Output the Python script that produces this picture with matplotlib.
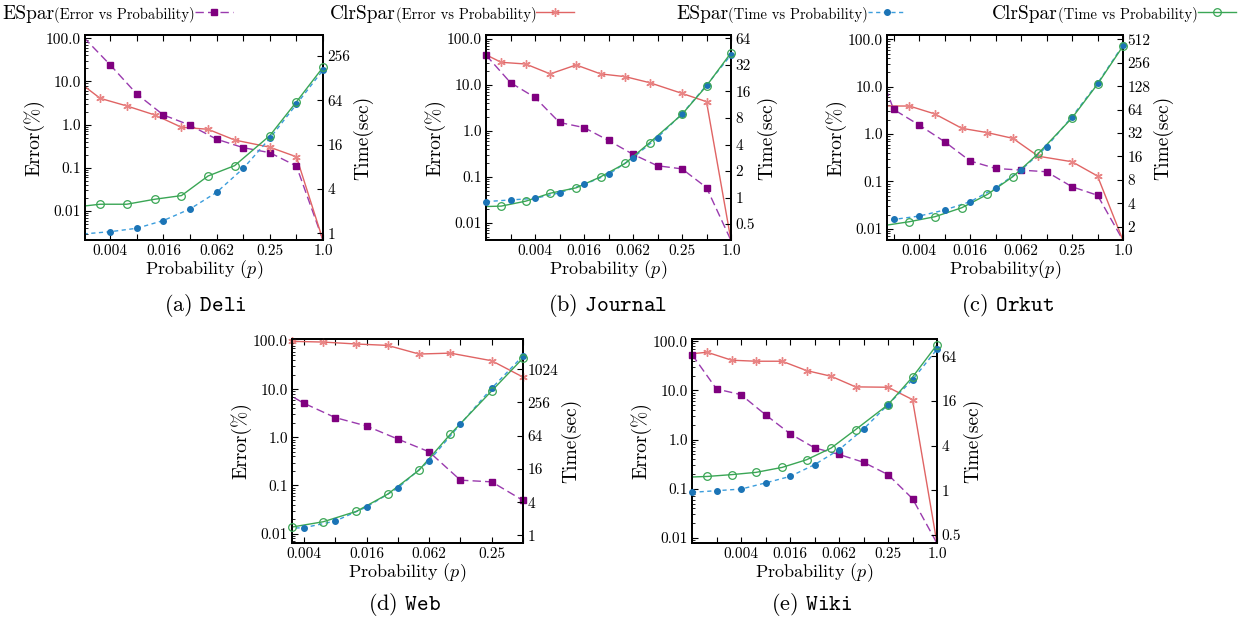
import numpy as np
import matplotlib
matplotlib.use('agg')
import matplotlib.pyplot as plt
from matplotlib.lines import Line2D
from matplotlib.ticker import NullLocator, NullFormatter, LogLocator

plt.rcParams['font.family'] = ['cmr10', 'DejaVu Serif']
plt.rcParams['mathtext.fontset'] = 'cm'
plt.rcParams['axes.formatter.use_mathtext'] = True
plt.rcParams['axes.unicode_minus'] = False

nan = np.nan

# probabilities (x)
espar_p = [2.0 ** k for k in range(-10, 1)]
clr_p = [0.0009, 0.0015, 0.003, 0.006, 0.0125, 0.025, 0.05, 0.1, 0.25, 0.5, 1.0]

# Deli
deli_espar_err = [nan, 105, 24.1, 5.1, 1.67, 0.97, 0.46, 0.293, 0.224, 0.110, 0.0021]
deli_clr_err = [nan, 12, 4.07, 2.71, 1.67, 0.87, 0.78, 0.44, 0.30, 0.18, 0.0021]
deli_espar_time = [nan, 0.98, 1.05, 1.17, 1.49, 2.14, 3.6, 7.6, 19.5, 56.5, 165]
deli_clr_time = [nan, 2.26, 2.48, 2.48, 2.90, 3.25, 6.0, 8.3, 21.2, 61, 180]

# Journal
journal_espar_err = [44, 11.1, 5.3, 1.52, 1.18, 0.62, 0.31, 0.175, 0.150, 0.059, 0.0042]
journal_clr_err = [48, 30.7, 28.2, 17.2, 26.9, 17.2, 15.0, 11.1, 6.5, 4.3, 0.0042]
journal_espar_time = [0.90, 0.94, 0.98, 1.13, 1.41, 1.83, 2.83, 4.8, 8.9, 18.8, 41.6]
journal_clr_time = [0.79, 0.80, 0.91, 1.12, 1.29, 1.72, 2.44, 4.2, 8.8, 18.5, 44]

# Orkut
orkut_espar_err = [90, 3.3, 1.55, 0.69, 0.27, 0.188, 0.173, 0.16, 0.077, 0.051, 0.0057]
orkut_clr_err = [nan, 3.9, 3.9, 2.65, 1.32, 1.07, 0.81, 0.34, 0.26, 0.13, 0.0057]
orkut_espar_time = [2.41, 2.48, 2.74, 3.28, 4.19, 6.3, 10.7, 21.3, 52, 139, 433]
orkut_clr_time = [nan, 2.07, 2.32, 2.69, 3.51, 5.2, 8.8, 17.5, 50, 136, 420]

# Web
web_espar_err = [nan, 12, 5.1, 2.57, 1.72, 0.92, 0.50, 0.129, 0.119, 0.049, nan]
web_clr_err = [nan, nan, 98.4, 95, 86.6, 81, 53.6, 56, 38.9, 17.8, nan]
web_espar_time = [nan, 1.32, 1.38, 1.82, 3.27, 7.2, 22.4, 104, 462, 1786, nan]
web_clr_time = [nan, nan, 1.42, 1.77, 2.73, 5.6, 15.2, 68, 414, 1620, nan]

# Wiki
wiki_espar_err = [53.6, 10.7, 8.2, 3.2, 1.32, 0.68, 0.50, 0.346, 0.194, 0.063, 0.0078]
wiki_clr_err = [55, 59.7, 41.1, 39.2, 39.2, 25.3, 19.4, 11.8, 11.6, 6.5, 0.0078]
wiki_espar_time = [0.94, 0.99, 1.04, 1.26, 1.54, 2.22, 3.53, 6.7, 14.3, 31, 80]
wiki_clr_time = [1.51, 1.54, 1.63, 1.75, 2.04, 2.59, 3.72, 6.6, 14.3, 33.7, 92]

x_tick_labels = {2.0 ** -8: '0.004', 2.0 ** -6: '0.016', 2.0 ** -4: '0.062',
                 2.0 ** -2: '0.25', 1.0: '1.0'}
err_ticks = [0.01, 0.1, 1, 10, 100]
err_tick_labels = ['0.01', '0.1', '1.0', '10.0', '100.0']

W, H = 1255, 627

# styles: line part and marker part
s_espar_err = dict(color='#9a3aae', ls=(0, (6, 3)), lw=1.0)
m_espar_err = dict(marker='s', ms=5, mfc='#7f007f', mec='#7f007f')
s_clr_err = dict(color='#e06464', ls='-', lw=1.0)
m_clr_err = dict(marker=(6, 2, 0), ms=6, mec='#e98585', mew=1.0)
s_espar_time = dict(color='#3b9ddc', ls=(0, (3, 2.5)), lw=1.0)
m_espar_time = dict(marker='o', ms=4, mfc='#1b74b6', mec='#1b74b6')
s_clr_time = dict(color='#3aa655', ls='-', lw=1.0)
m_clr_time = dict(marker='o', ms=5.5, mfc='none', mec='#3aa655', mew=0.9)

panels = [
    # (box px: left, top, right, bottom), data, xlim, err ylim, time ylim, time ticks, labels, xlabel, title
    ((85, 35, 323, 240), (deli_espar_err, deli_clr_err, deli_espar_time, deli_clr_time),
     (2 ** -8.95, 1.0), (0.00213, 119), (0.81, 494),
     [1, 4, 16, 64, 256], ['1', '4', '16', '64', '256'],
     r'Probability ($p$)', r'(a) $\mathtt{Deli}$', (205, 305)),
    ((486, 35, 731, 240), (journal_espar_err, journal_clr_err, journal_espar_time, journal_clr_time),
     (2 ** -10, 1.0), (0.0043, 120), (0.33, 70),
     [0.5, 1, 2, 4, 8, 16, 32, 64], ['0.5', '1', '2', '4', '8', '16', '32', '64'],
     r'Probability ($p$)', r'(b) $\mathtt{Journal}$', (608, 305)),
    ((887, 35, 1123, 240), (orkut_espar_err, orkut_clr_err, orkut_espar_time, orkut_clr_time),
     (2 ** -9.26, 1.0), (0.0058, 123), (1.35, 583),
     [2, 4, 8, 16, 32, 64, 128, 256, 512], ['2', '4', '8', '16', '32', '64', '128', '256', '512'],
     r'Probability($p$)', r'(c) $\mathtt{Orkut}$', (1008, 305)),
    ((292, 339, 523, 543), (web_espar_err, web_clr_err, web_espar_time, web_clr_time),
     (0.003, 0.5), (0.0064, 110), (0.73, 3600),
     [1, 4, 16, 64, 256, 1024], ['1', '4', '16', '64', '256', '1024'],
     r'Probability ($p$)', r'(d) $\mathtt{Web}$', (405, 605)),
    ((692, 339, 937, 543), (wiki_espar_err, wiki_clr_err, wiki_espar_time, wiki_clr_time),
     (2 ** -10, 1.0), (0.0079, 111), (0.195, 110),
     [0.25, 1, 4, 16, 64], ['0.5', '1', '4', '16', '64'],
     r'Probability ($p$)', r'(e) $\mathtt{Wiki}$', (812, 605)),
]


def draw_series(a, xs, ys, line_style, mark_style, xlim, ylim):
    # line is clipped by the axes, markers inside the range are drawn whole
    a.plot(xs, ys, **line_style)
    xs = np.asarray(xs, float)
    ys = np.asarray(ys, float)
    keep = (xs >= xlim[0] * 0.999) & (xs <= xlim[1] * 1.001) & (ys >= ylim[0]) & (ys <= ylim[1])
    a.plot(xs[keep], ys[keep], ls='none', clip_on=False, zorder=3, **mark_style)


fig = plt.figure(figsize=(W / 100, H / 100), dpi=100)

for box, data, xlim, elim, tlim, tticks, tlabels, xlabel, title, tpos in panels:
    l, t, r, b = box
    ax = fig.add_axes([l / W, 1 - b / H, (r - l) / W, (b - t) / H])
    ax2 = ax.twinx()
    e_err, c_err, e_time, c_time = data

    draw_series(ax, espar_p, e_err, s_espar_err, m_espar_err, xlim, elim)
    draw_series(ax, clr_p, c_err, s_clr_err, m_clr_err, xlim, elim)
    draw_series(ax2, espar_p, e_time, s_espar_time, m_espar_time, xlim, tlim)
    draw_series(ax2, clr_p, c_time, s_clr_time, m_clr_time, xlim, tlim)

    ax.set_xscale('log', base=2)
    ax.set_yscale('log')
    ax2.set_yscale('log', base=2)

    ax.set_xticks(espar_p)
    ax.set_xticklabels([x_tick_labels.get(p, '') for p in espar_p])
    ax.xaxis.set_minor_locator(NullLocator())
    ax.set_yticks(err_ticks)
    ax.set_yticklabels(err_tick_labels)
    ax.yaxis.set_minor_locator(LogLocator(base=10, subs=np.arange(2, 10)))
    ax.yaxis.set_minor_formatter(NullFormatter())
    ax2.set_yticks(tticks)
    ax2.set_yticklabels(tlabels)
    ax2.yaxis.set_minor_locator(NullLocator())

    # limits after the ticks, set_xticks would widen them otherwise
    ax.set_xlim(*xlim)
    ax.set_ylim(*elim)
    ax2.set_ylim(*tlim)

    ax.tick_params(which='both', direction='in', top=True, right=False, labelsize=11, pad=3)
    ax.tick_params(which='major', length=4, width=0.8)
    ax.tick_params(which='minor', length=2, width=0.6)
    ax2.tick_params(which='both', direction='in', labelsize=11, length=4, width=0.8, pad=3)

    for a in (ax, ax2):
        for s in a.spines.values():
            s.set_linewidth(1.3)

    ax.set_xlabel(xlabel, fontsize=13, labelpad=0)
    ax.set_ylabel('Error(%)', fontsize=14, labelpad=1)
    ax2.set_ylabel('Time(sec)', fontsize=14, labelpad=2)

    fig.text(tpos[0] / W, 1 - tpos[1] / H, title, fontsize=16, ha='center', va='center')

# legend along the top, drawn by hand (big name + small description + handle)
renderer = fig.canvas.get_renderer()
legend_items = [
    (2, 'ESpar', '(Error vs Probability)', s_espar_err, m_espar_err),
    (330, 'ClrSpar', '(Error vs Probability)', s_clr_err, m_clr_err),
    (676, 'ESpar', '(Time vs Probability)', s_espar_time, m_espar_time),
    (992, 'ClrSpar', '(Time vs Probability)', s_clr_time, m_clr_time),
]
base_y = 1 - 19 / H
for x0, big, small, line_style, mark_style in legend_items:
    t1 = fig.text(x0 / W, base_y, big, fontsize=14, ha='left', va='baseline')
    bb = t1.get_window_extent(renderer)
    t2 = fig.text(bb.x1 / W, base_y, small, fontsize=10.5, ha='left', va='baseline')
    bb2 = t2.get_window_extent(renderer)
    hx = [bb2.x1 / W, (bb2.x1 + 19) / W, (bb2.x1 + 38) / W]
    hy = [1 - 12 / H] * 3
    fig.add_artist(Line2D(hx, hy, transform=fig.transFigure, markevery=[1],
                          **line_style, **mark_style))

fig.savefig('out.png', dpi=100)
